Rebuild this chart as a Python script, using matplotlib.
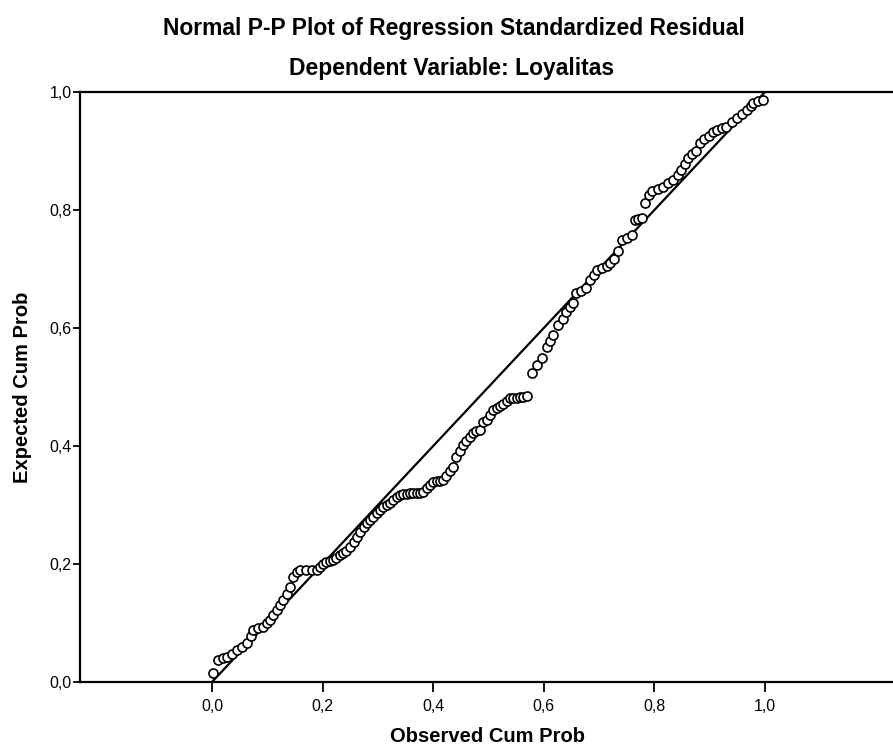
import matplotlib
matplotlib.use("Agg")
import matplotlib.pyplot as plt
from matplotlib.ticker import FuncFormatter

# observed vs expected cumulative probability
obs_cum = [0.002, 0.011, 0.020, 0.027, 0.036, 0.045, 0.054, 0.063, 0.070, 0.075,
           0.084, 0.093, 0.100, 0.105, 0.111, 0.117, 0.123, 0.129, 0.135, 0.141,
           0.147, 0.153, 0.160, 0.170, 0.180, 0.190, 0.195, 0.200, 0.207, 0.213,
           0.219, 0.225, 0.231, 0.237, 0.243, 0.250, 0.256, 0.262, 0.268, 0.274,
           0.280, 0.286, 0.291, 0.298, 0.304, 0.310, 0.316, 0.322, 0.328, 0.334,
           0.340, 0.346, 0.352, 0.358, 0.364, 0.370, 0.376, 0.382, 0.388, 0.394,
           0.400, 0.406, 0.412, 0.418, 0.424, 0.430, 0.436, 0.442, 0.448, 0.454,
           0.460, 0.466, 0.472, 0.478, 0.485, 0.490, 0.497, 0.503, 0.509, 0.515,
           0.521, 0.527, 0.533, 0.539, 0.545, 0.551, 0.557, 0.563, 0.569,
           0.578, 0.588, 0.596, 0.605, 0.611, 0.617, 0.626, 0.634, 0.641, 0.647,
           0.653, 0.659, 0.668, 0.677, 0.684, 0.690, 0.696, 0.705, 0.714, 0.720,
           0.727, 0.735, 0.741, 0.750, 0.759, 0.765, 0.771, 0.777, 0.783, 0.790,
           0.796, 0.806, 0.816, 0.825, 0.834, 0.842, 0.849, 0.855, 0.861, 0.868,
           0.875, 0.882, 0.890, 0.898, 0.906, 0.914, 0.922, 0.930, 0.940, 0.949,
           0.958, 0.967, 0.974, 0.979, 0.987, 0.996]
exp_cum = [0.015, 0.037, 0.040, 0.043, 0.048, 0.054, 0.060, 0.066, 0.078, 0.088,
           0.092, 0.094, 0.100, 0.105, 0.113, 0.122, 0.130, 0.139, 0.150, 0.161,
           0.178, 0.187, 0.190, 0.190, 0.190, 0.190, 0.195, 0.200, 0.203, 0.205,
           0.207, 0.211, 0.215, 0.218, 0.222, 0.229, 0.237, 0.246, 0.254, 0.262,
           0.269, 0.275, 0.280, 0.286, 0.292, 0.297, 0.300, 0.303, 0.309, 0.314,
           0.317, 0.318, 0.319, 0.320, 0.320, 0.321, 0.321, 0.322, 0.328, 0.334,
           0.339, 0.340, 0.341, 0.342, 0.350, 0.358, 0.365, 0.382, 0.392, 0.402,
           0.409, 0.416, 0.422, 0.425, 0.427, 0.441, 0.444, 0.452, 0.461, 0.464,
           0.468, 0.472, 0.477, 0.481, 0.482, 0.482, 0.483, 0.483, 0.484,
           0.524, 0.537, 0.549, 0.568, 0.578, 0.588, 0.605, 0.616, 0.627, 0.635,
           0.642, 0.660, 0.662, 0.667, 0.681, 0.690, 0.698, 0.701, 0.705, 0.710,
           0.717, 0.730, 0.749, 0.753, 0.757, 0.783, 0.785, 0.787, 0.812, 0.826,
           0.832, 0.836, 0.839, 0.845, 0.851, 0.860, 0.868, 0.878, 0.888, 0.895,
           0.900, 0.913, 0.920, 0.926, 0.932, 0.936, 0.939, 0.941, 0.949, 0.956,
           0.963, 0.969, 0.976, 0.981, 0.984, 0.986]
diag = [0.0, 1.0]
ticks = [0.0, 0.2, 0.4, 0.6, 0.8, 1.0]

W, H = 893, 753
fig = plt.figure(figsize=(W / 100, H / 100), dpi=100)
ax = fig.add_axes([80 / W, 71 / H, 813 / W, 590 / H])

ax.plot(diag, diag, color="black", lw=1.6, zorder=2)
ax.plot(obs_cum, exp_cum, ls="none", marker="o", ms=6.5, mfc="white",
        mec="black", mew=1.2, zorder=3)

ax.set_xlim(-0.2387, 1.2315)
ax.set_ylim(0, 1)
ax.set_xticks(ticks)
ax.set_yticks(ticks)
comma = FuncFormatter(lambda v, p: ("%.1f" % v).replace(".", ","))
ax.xaxis.set_major_formatter(comma)
ax.yaxis.set_major_formatter(comma)

for s in ["left", "top", "bottom"]:
    ax.spines[s].set_linewidth(1.6)
ax.spines["right"].set_visible(False)

font = ["Liberation Sans", "DejaVu Sans"]
ax.tick_params(axis="x", length=7, width=1.3, pad=5, labelsize=11.5)
ax.tick_params(axis="y", length=5, width=1.3, pad=1, labelsize=11.5)
for lb in ax.get_xticklabels() + ax.get_yticklabels():
    lb.set_family(font)

# axis titles placed by hand so they stay inside the canvas
fig.text(487 / W, 1 - 737 / H, "Observed Cum Prob", ha="center", va="center",
         fontsize=14.5, fontweight="bold", family=font)
fig.text(23 / W, 1 - 387 / H, "Expected Cum Prob", ha="center", va="center",
         rotation=90, fontsize=14.5, fontweight="bold", family=font)

fig.text(454 / W, 1 - 29 / H, "Normal P-P Plot of Regression Standardized Residual",
         ha="center", va="center", fontsize=16.5, fontweight="bold", family=font)
fig.text(452 / W, 1 - 68 / H, "Dependent Variable: Loyalitas",
         ha="center", va="center", fontsize=16.5, fontweight="bold", family=font)

fig.savefig("out.png", dpi=100)
